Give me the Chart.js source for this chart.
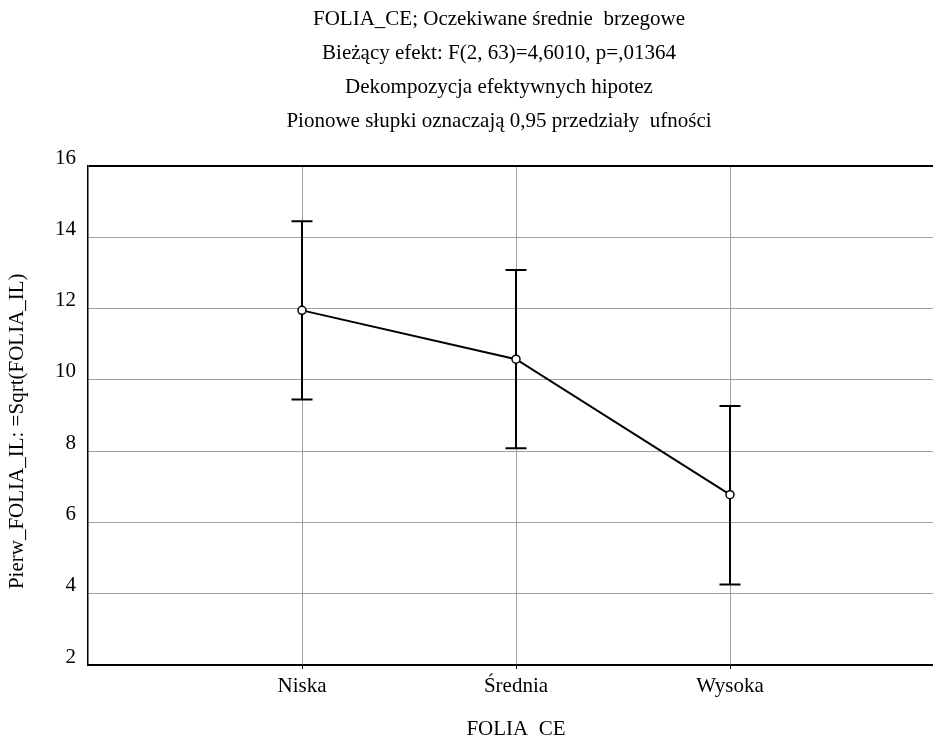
<!DOCTYPE html>
<html>
<head>
<meta charset="utf-8">
<script src="https://cdn.jsdelivr.net/npm/chart.js@4"></script>
<style>
  html, body { margin: 0; padding: 0; background: #fff; overflow: hidden; }
  #wrap { position: absolute; left: 0; top: 0; }
</style>
</head>
<body>
<div id="wrap"><canvas id="meansChart" width="998" height="750"></canvas></div>
<script>
const categories = ["Niska", "Średnia", "Wysoka"];
const means = [11.95, 10.58, 6.78];
const lowerCI = [9.45, 8.08, 4.26];
const upperCI = [14.45, 13.08, 9.27];
const yTicks = [2, 4, 6, 8, 10, 12, 14, 16];

const titleLines = [
  "FOLIA_CE; Oczekiwane średnie  brzegowe",
  "Bieżący efekt: F(2, 63)=4,6010, p=,01364",
  "Dekompozycja efektywnych hipotez",
  "Pionowe słupki oznaczają 0,95 przedziały  ufności"
];

const serif = "'Liberation Serif', 'Times New Roman', serif";
const gridGrey = "#a0a0a0";

// pionowe słupki przedziałów ufności
const errorBars = {
  id: "errorBars",
  beforeDatasetsDraw(chart) {
    const { ctx, scales: { x, y } } = chart;
    ctx.save();
    ctx.strokeStyle = "#000";
    ctx.lineWidth = 2;
    const cap = 10.5;
    categories.forEach((c, i) => {
      const px = x.getPixelForValue(i + 1);
      const lo = y.getPixelForValue(lowerCI[i]);
      const hi = y.getPixelForValue(upperCI[i]);
      ctx.beginPath();
      ctx.moveTo(px, lo);
      ctx.lineTo(px, hi);
      ctx.moveTo(px - cap, hi);
      ctx.lineTo(px + cap, hi);
      ctx.moveTo(px - cap, lo);
      ctx.lineTo(px + cap, lo);
      ctx.stroke();
    });
    ctx.restore();
  }
};

const ctx = document.getElementById("meansChart").getContext("2d");
new Chart(ctx, {
  type: "line",
  data: {
    datasets: [{
      data: means.map((m, i) => ({ x: i + 1, y: m })),
      borderColor: "#000",
      borderWidth: 2,
      pointRadius: 4,
      pointBorderWidth: 1.5,
      pointBackgroundColor: "#fff",
      pointBorderColor: "#000",
      tension: 0
    }]
  },
  options: {
    responsive: false,
    animation: false,
    layout: { padding: 0 },
    plugins: {
      legend: { display: false },
      tooltip: { enabled: false },
      title: {
        display: true,
        text: titleLines,
        color: "#000",
        font: { family: serif, size: 21, weight: "normal", lineHeight: "34px" },
        padding: { top: 2, bottom: 28 }
      }
    },
    scales: {
      x: {
        type: "linear",
        min: 0,
        max: 4,
        afterBuildTicks: s => { s.ticks = categories.map((c, i) => ({ value: i + 1 })); },
        afterFit: s => { s.height = 85; },
        ticks: {
          callback: v => categories[v - 1] || "",
          color: "#000",
          font: { family: serif, size: 21 },
          padding: 5,
          maxRotation: 0,
          autoSkip: false
        },
        grid: { color: gridGrey, lineWidth: 1, tickLength: 4, tickColor: "#000" },
        border: { color: "#000", width: 2 },
        title: {
          display: true,
          text: "FOLIA_CE",
          color: "#000",
          font: { family: serif, size: 21 },
          padding: { top: 0, bottom: 8 }
        }
      },
      y: {
        min: 2,
        max: 16,
        afterBuildTicks: s => { s.ticks = yTicks.map(v => ({ value: v })); },
        afterFit: s => { s.width = 88; },
        ticks: {
          color: "#000",
          font: { family: serif, size: 21 },
          padding: 12,
          labelOffset: -8
        },
        grid: {
          drawTicks: false,
          color: c => (c.tick && c.tick.value === 16 ? "#000" : gridGrey),
          lineWidth: c => (c.tick && c.tick.value === 16 ? 2 : 1)
        },
        border: { color: "#000", width: 1.5 },
        title: {
          display: true,
          text: "Pierw_FOLIA_IL: =Sqrt(FOLIA_IL)      ",
          color: "#000",
          font: { family: serif, size: 21 },
          padding: { top: 5, bottom: 0 }
        }
      },
      // pusta oś po prawej: wykres wychodzi poza kadr
      yRight: {
        type: "linear",
        position: "right",
        min: 2,
        max: 16,
        afterFit: s => { s.width = 54; },
        ticks: { display: false },
        grid: { display: false },
        border: { display: false }
      }
    }
  },
  plugins: [errorBars]
});
</script>
</body>
</html>
